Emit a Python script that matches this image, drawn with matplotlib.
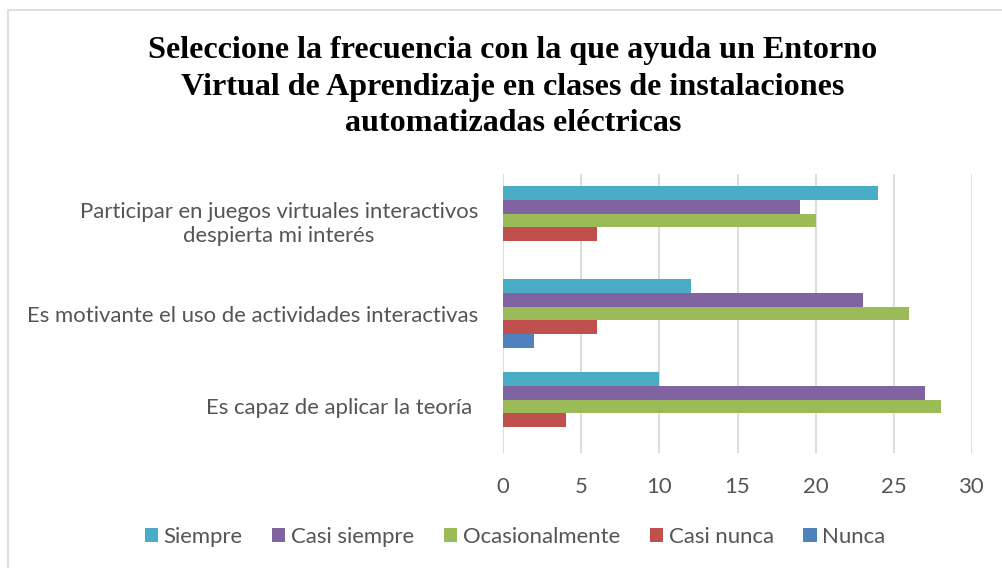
import matplotlib
matplotlib.use("Agg")
import matplotlib.pyplot as plt
from matplotlib.patches import Rectangle
import numpy as np

categories = [
    "Participar en juegos virtuales interactivos\ndespierta mi interés",
    "Es motivante el uso de actividades interactivas",
    "Es capaz de aplicar la teoría ",
]
series_names = ["Siempre", "Casi siempre", "Ocasionalmente", "Casi nunca", "Nunca"]
siempre = [24, 12, 10]
casi_siempre = [19, 23, 27]
ocasionalmente = [20, 26, 28]
casi_nunca = [6, 6, 4]
nunca = [0, 2, 0]
series_values = [siempre, casi_siempre, ocasionalmente, casi_nunca, nunca]
colors = ["#4BACC6", "#8064A2", "#9BBB59", "#C0504D", "#4F81BD"]
xticks = [0, 5, 10, 15, 20, 25, 30]

fig = plt.figure(figsize=(10.02, 5.68), dpi=100)
ax = fig.add_axes([503/1002, 1-453/568, (972-503)/1002, (453-174)/568])

label_font = "Lato"
text_color = "#555555"
h = 0.148
y = np.arange(len(categories))
handles = []
for i, (name, vals, c) in enumerate(zip(series_names, series_values, colors)):
    off = -2.5*h + h*(i+0.5)
    b = ax.barh(y + off, vals, height=h, color=c, label=name, zorder=3)
    handles.append(b)

ax.set_xlim(0, 30)
ax.set_ylim(2.5, -0.5)
ax.set_xticks(xticks)
ax.set_xticklabels([str(t) for t in xticks])
ax.set_yticks(y)
ax.set_yticklabels(categories, multialignment="center")
for s in ax.spines.values():
    s.set_visible(False)
ax.grid(axis="x", color="#D9D9D9", linewidth=1.3, zorder=0)
ax.tick_params(axis="both", length=0, labelcolor=text_color, labelsize=15.9)
ax.tick_params(axis="x", pad=17)
ax.tick_params(axis="y", pad=18)
for t in ax.get_xticklabels() + ax.get_yticklabels():
    t.set_fontfamily(label_font)

fig.text(513/1002, 1-87/568,
         "Seleccione la frecuencia con la que ayuda un Entorno\nVirtual de Aprendizaje en clases de instalaciones\nautomatizadas eléctricas",
         ha="center", va="center", fontsize=23.1, fontweight="bold",
         fontfamily="Liberation Serif", linespacing=1.32)

leg = fig.legend(handles=handles, labels=series_names, loc="center",
                 bbox_to_anchor=(515/1002, 1-537/568), ncol=5, frameon=False,
                 prop={"family": label_font, "size": 15.9}, handlelength=0.6,
                 handleheight=0.6, handletextpad=0.25, columnspacing=1.35)
for t in leg.get_texts():
    t.set_color(text_color)

fig.patches.append(Rectangle((8/1002, -0.05), 1.1, 1-10/568+0.05,
                             transform=fig.transFigure, fill=False,
                             edgecolor="#D9D9D9", linewidth=1.2, zorder=0))

fig.savefig("out.png", dpi=100)
